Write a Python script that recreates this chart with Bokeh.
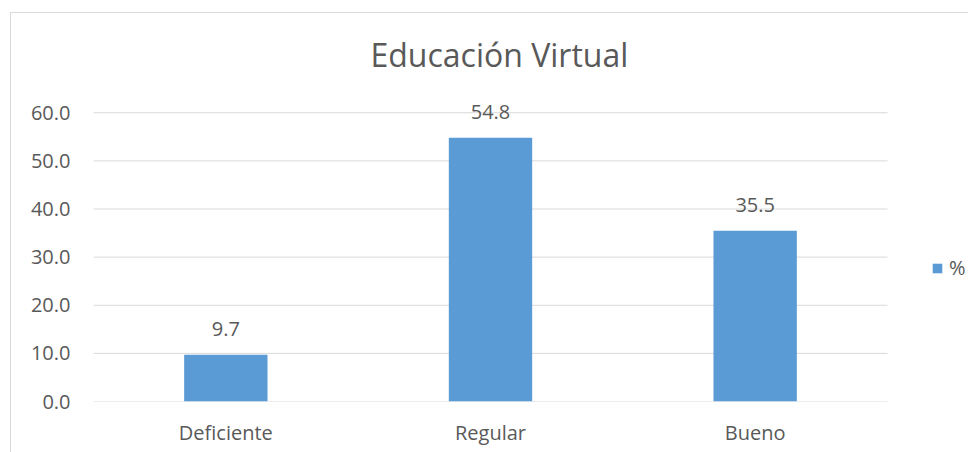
from bokeh.plotting import figure
from bokeh.models import (ColumnDataSource, Range1d, FixedTicker, LabelSet,
                          Legend, LegendItem, NumeralTickFormatter)
from bokeh.embed import file_html
from bokeh.resources import INLINE
from bokeh.core.properties import value

categories = ["Deficiente", "Regular", "Bueno"]
values = [9.7, 54.8, 35.5]
labels = ["9.7", "54.8", "35.5"]
y_ticks = [0, 10, 20, 30, 40, 50, 60]
title_text = "Educación Virtual"
series_name = "%"

FONT = "Open Sans"
TXT = "#595959"
BAR = "#5B9BD5"
GRID = "#D9D9D9"

# category slots 1..n on a numeric axis; extra room on the right for the legend
xpos = [i + 1 for i in range(len(categories))]
x_end = len(categories) + 0.5 + 82 / 264.67

W, H = 958, 440
p = figure(width=W, height=H, output_backend="svg", toolbar_location=None,
           x_range=Range1d(0.5, x_end), y_range=Range1d(0, 64))
p.margin = (12, 0, 0, 10)
p.styles = {"border-left": "1px solid #D9D9D9", "border-top": "1px solid #D9D9D9"}
p.min_border_left = 82
p.min_border_right = 0
p.min_border_top = 80
p.min_border_bottom = 52
p.outline_line_color = None
p.background_fill_color = "white"
p.border_fill_color = "white"

p.title.text = title_text
p.title.align = "left"
p.title.offset = 277
p.title.text_font = FONT
p.title.text_font_size = "32px"
p.title.text_font_style = "normal"
p.title.text_color = TXT
p.title.standoff = 35

# gridlines limited to the plot area (the category slots)
p.xgrid.grid_line_color = None
p.ygrid.grid_line_color = None
grid_src = ColumnDataSource(dict(y=y_ticks, x0=[0.5] * len(y_ticks),
                                 x1=[len(categories) + 0.5] * len(y_ticks)))
p.segment(x0="x0", x1="x1", y0="y", y1="y", source=grid_src,
          line_color=GRID, line_width=1)

src = ColumnDataSource(dict(x=xpos, cat=categories, val=values, lab=labels))
r = p.vbar(x="x", top="val", width=0.315, source=src, fill_color=BAR, line_color=None)

p.yaxis.ticker = FixedTicker(ticks=y_ticks, minor_ticks=[])
p.yaxis.formatter = NumeralTickFormatter(format="0.0")
p.xaxis.ticker = FixedTicker(ticks=xpos, minor_ticks=[])
p.xaxis.major_label_overrides = {x: c for x, c in zip(xpos, categories)}
for ax in (p.xaxis[0], p.yaxis[0]):
    ax.axis_line_color = None
    ax.major_tick_line_color = None
    ax.minor_tick_line_color = None
    ax.major_tick_out = 0
    ax.major_tick_in = 0
    ax.minor_tick_out = 0
    ax.major_label_text_color = TXT
    ax.major_label_text_font = FONT
    ax.major_label_text_font_size = "20px"
p.yaxis.major_label_standoff = 23
p.xaxis.major_label_standoff = 17

lbl = LabelSet(x="x", y="val", text="lab", source=src, text_align="center",
               text_baseline="middle", y_offset=26, text_color=TXT,
               text_font=value(FONT), text_font_size="20px")
p.add_layout(lbl)

leg = Legend(items=[LegendItem(label=series_name, renderers=[r])],
             location=(838, 120), padding=0, margin=0, spacing=0,
             glyph_width=12, glyph_height=12, label_standoff=6, label_height=20,
             border_line_color=None, background_fill_alpha=0,
             label_text_font=FONT, label_text_font_size="20px",
             label_text_color=TXT)
p.add_layout(leg, "center")

open("out.html", "w").write(file_html(p, INLINE))
